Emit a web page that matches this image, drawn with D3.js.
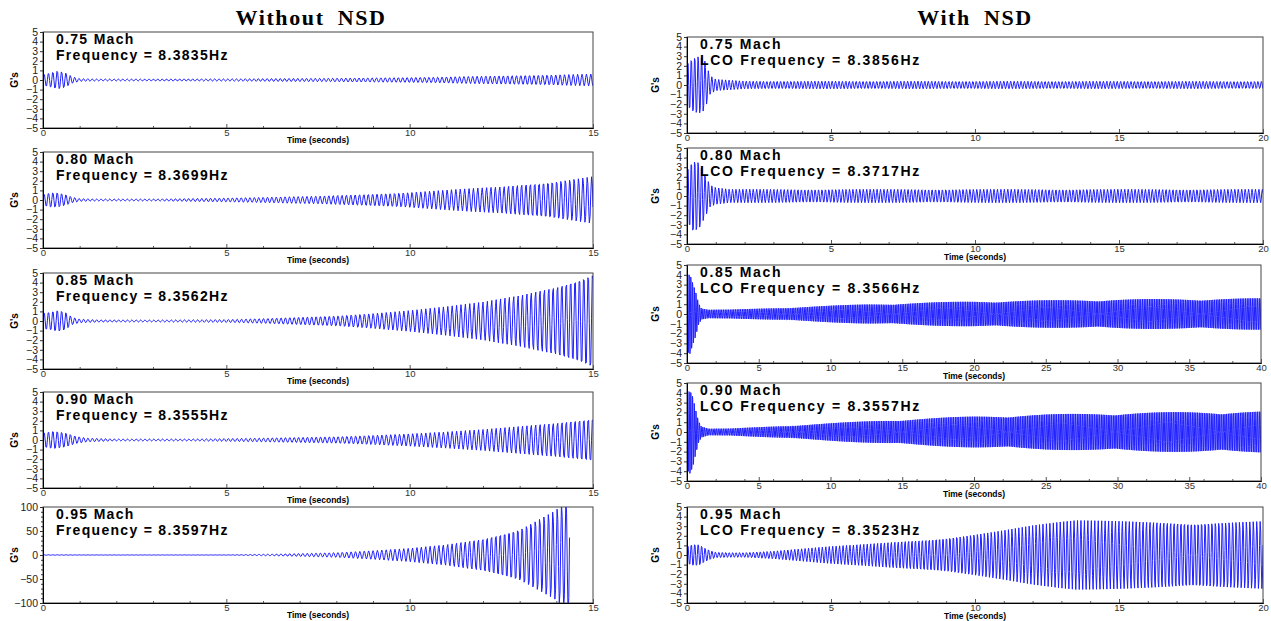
<!DOCTYPE html>
<html><head><meta charset="utf-8">
<script src="https://cdn.jsdelivr.net/npm/d3@7"></script>
<style>body{margin:0;background:#fff} svg{display:block} text{font-family:"Liberation Sans",Arial,sans-serif}</style>
</head><body>
<svg id="c" width="1271" height="621"></svg>
<script>
// ---------------- DATA ----------------
const panelTitles = ["Without NSD", "With NSD"];
const machLabels = ["0.75 Mach", "0.80 Mach", "0.85 Mach", "0.90 Mach", "0.95 Mach"];
const freqWithout = [8.3835, 8.3699, 8.3562, 8.3555, 8.3597];
const freqWith = [8.3856, 8.3717, 8.3566, 8.3557, 8.3523];
const timeMaxWithout = [15, 15, 15, 15, 15];
const timeMaxWith = [20, 20, 40, 40, 20];
const gMaxWithout = [5, 5, 5, 5, 100];
const gMaxWith = [5, 5, 5, 5, 5];
const xTicksMajor15 = [0, 5, 10, 15];
const xTicksMajor20 = [0, 5, 10, 15, 20];
const xTicksMajor40 = [0, 5, 10, 15, 20, 25, 30, 35, 40];
const yTicks5 = [5, 4, 3, 2, 1, 0, -1, -2, -3, -4, -5];
const yTicks100 = [100, 50, 0, -50, -100];

// amplitude envelopes (G's) of the acceleration traces, read at time points (s)
const envTimeL075 = [0, 0.2, 0.4, 0.6, 0.8, 1.0, 1.5, 3, 5, 7, 9, 10, 11, 12, 13, 14, 15];
const envAmpL075  = [0.6, 0.8, 1.0, 0.8, 0.35, 0.15, 0.1, 0.1, 0.12, 0.16, 0.22, 0.26, 0.32, 0.4, 0.48, 0.55, 0.62];
const envTimeL080 = [0, 0.2, 0.4, 0.6, 0.8, 1.0, 1.5, 3, 5, 7.5, 10, 12.5, 15];
const envAmpL080  = [0.6, 0.8, 0.8, 0.6, 0.3, 0.15, 0.1, 0.1, 0.2, 0.4, 0.8, 1.4, 2.5];
const envTimeL085 = [0, 0.2, 0.4, 0.6, 0.8, 1.0, 1.5, 3, 5, 6, 7, 8, 9, 10, 11, 12, 13, 14, 15];
const envAmpL085  = [0.9, 1.0, 1.2, 1.0, 0.4, 0.2, 0.12, 0.1, 0.15, 0.25, 0.4, 0.55, 0.8, 1.1, 1.5, 2.0, 2.75, 3.8, 5.3];
const envTimeL090 = [0, 0.3, 0.6, 0.9, 1.2, 2, 4, 6, 8, 10, 11, 12, 13, 14, 15];
const envAmpL090  = [0.8, 1.0, 0.8, 0.4, 0.2, 0.1, 0.1, 0.2, 0.35, 0.65, 0.85, 1.1, 1.45, 1.85, 2.4];
const envTimeL095 = [0, 0.5, 1, 5, 6, 7, 8, 9, 10, 11, 12, 13, 14, 14.37];
const envAmpL095  = [0.5, 0.5, 0.3, 0.3, 1.5, 3, 5, 9, 14, 22, 35, 58, 98, 130];

const envTimeR075 = [0, 0.2, 0.4, 0.6, 0.8, 1.0, 1.5, 2, 20];
const envAmpR075  = [2.5, 3.0, 3.2, 2.8, 1.0, 0.6, 0.5, 0.4, 0.38];
const envTimeR080 = [0, 0.2, 0.4, 0.6, 0.8, 1.0, 1.5, 20];
const envAmpR080  = [3.0, 4.0, 3.8, 2.5, 1.2, 0.9, 0.7, 0.7];
const envTimeR085 = [0, 0.2, 0.4, 0.6, 0.8, 1.0, 1.5, 3, 5, 7.5, 10, 12.5, 15, 17.5, 20, 25, 30, 35, 40];
const envAmpR085  = [4.5, 4.6, 3.5, 2.5, 1.2, 0.6, 0.45, 0.45, 0.55, 0.7, 0.85, 1.0, 1.1, 1.2, 1.3, 1.4, 1.5, 1.55, 1.6];
const envTimeR090 = [0, 0.2, 0.4, 0.6, 0.8, 1.0, 1.5, 3, 5, 7.5, 10, 12.5, 15, 17.5, 20, 25, 30, 35, 40];
const envAmpR090  = [4.5, 4.8, 4.0, 2.5, 1.2, 0.6, 0.35, 0.35, 0.5, 0.7, 0.9, 1.1, 1.3, 1.45, 1.6, 1.8, 1.95, 2.05, 2.1];
const envTimeR095 = [0, 0.2, 0.4, 0.6, 0.8, 1.0, 1.5, 2, 3, 4, 5, 6, 7, 8, 9, 10, 11, 12, 13, 13.5, 20];
const envAmpR095  = [1.0, 1.2, 1.2, 0.8, 0.5, 0.3, 0.25, 0.25, 0.4, 0.65, 0.9, 1.1, 1.35, 1.6, 1.9, 2.25, 2.65, 3.1, 3.45, 3.6, 3.6];

const envTimesWithout = [envTimeL075, envTimeL080, envTimeL085, envTimeL090, envTimeL095];
const envAmpsWithout = [envAmpL075, envAmpL080, envAmpL085, envAmpL090, envAmpL095];
const envTimesWith = [envTimeR075, envTimeR080, envTimeR085, envTimeR090, envTimeR095];
const envAmpsWith = [envAmpR075, envAmpR080, envAmpR085, envAmpR090, envAmpR095];

// ---------------- LAYOUT ----------------
const sampleRate = 50; // samples per second of the recorded traces
const svg = d3.select("#c");
const leftBoxes = [
  {x0: 43, x1: 593, y0: 32, y1: 128},
  {x0: 43, x1: 593, y0: 152, y1: 248},
  {x0: 43, x1: 593, y0: 273, y1: 369},
  {x0: 43, x1: 593, y0: 392, y1: 488},
  {x0: 43, x1: 593, y0: 507, y1: 603}
];
const rightBoxes = [
  {x0: 687, x1: 1263, y0: 37, y1: 133},
  {x0: 687, x1: 1263, y0: 148, y1: 244},
  {x0: 687, x1: 1261, y0: 265, y1: 363},
  {x0: 687, x1: 1261, y0: 383, y1: 481},
  {x0: 687, x1: 1263, y0: 507, y1: 603}
];

function title(x, s) {
  svg.append("text").attr("x", x).attr("y", 25).attr("text-anchor", "middle")
    .style("font-family", '"Liberation Serif","Times New Roman",serif').style("font-weight", "bold")
    .style("font-size", "22px").style("letter-spacing", "1.6px").style("word-spacing", "6px")
    .text(s);
}
title(311, panelTitles[0]);
title(975, panelTitles[1]);

let clipId = 0;
function drawPanel(box, opts) {
  const g = svg.append("g");
  const x = d3.scaleLinear().domain([0, opts.tMax]).range([box.x0, box.x1]);
  const y = d3.scaleLinear().domain([-opts.gMax, opts.gMax]).range([box.y1, box.y0]);
  const env = d3.scaleLinear().domain(opts.envT).range(opts.envA).clamp(true);
  const tEnd = opts.envT[opts.envT.length - 1];
  const n = Math.floor(tEnd * sampleRate);
  const pts = d3.range(n + 1).map(i => {
    const t = i / sampleRate;
    return [t, env(t) * Math.sin(2 * Math.PI * opts.freq * t)];
  });

  const cid = "clip" + (clipId++);
  svg.append("clipPath").attr("id", cid).append("rect")
    .attr("x", box.x0).attr("y", box.y0).attr("width", box.x1 - box.x0).attr("height", box.y1 - box.y0);

  g.append("path").datum(pts).attr("clip-path", `url(#${cid})`)
    .attr("fill", "none").attr("stroke", "#1f1fff").attr("stroke-width", 1)
    .attr("d", d3.line().x(d => x(d[0])).y(d => y(d[1])));

  // frame
  g.append("rect").attr("x", box.x0).attr("y", box.y0).attr("width", box.x1 - box.x0).attr("height", box.y1 - box.y0)
    .attr("fill", "none").attr("stroke", "#444").attr("stroke-width", 1);

  // x axis major
  const xa = g.append("g").attr("transform", `translate(0,${box.y1})`)
    .call(d3.axisBottom(x).tickValues(opts.xMajor).tickSize(-4).tickPadding(1).tickFormat(d3.format("d")));
  xa.select(".domain").attr("stroke", "#000");
  xa.selectAll("text").style("font-size", "9.5px").attr("fill", "#333").attr("y", 1).attr("dy", "0.71em");
  xa.selectAll(".tick line").attr("stroke", "#555");
  // x minor
  const minorX = d3.range(0, opts.tMax + 0.001, opts.xMinor).filter(v => !opts.xMajor.includes(v));
  const xm = g.append("g").attr("transform", `translate(0,${box.y1})`)
    .call(d3.axisBottom(x).tickValues(minorX).tickSize(-2).tickFormat(""));
  xm.select(".domain").remove();
  xm.selectAll(".tick line").attr("stroke", "#555");

  // y axis
  const ya = g.append("g").attr("transform", `translate(${box.x0},0)`)
    .call(d3.axisLeft(y).tickValues(opts.yTicks).tickSize(3).tickPadding(2));
  ya.select(".domain").attr("stroke", "#000");
  ya.selectAll("text").style("font-size", "10.5px").attr("fill", "#222");
  ya.selectAll(".tick line").attr("stroke", "#333");
  if (opts.yMinor) {
    const minorY = d3.range(-opts.gMax, opts.gMax + 0.001, opts.yMinor).filter(v => !opts.yTicks.includes(v));
    const ym = g.append("g").attr("transform", `translate(${box.x0},0)`)
      .call(d3.axisLeft(y).tickValues(minorY).tickSize(2).tickFormat(""));
    ym.select(".domain").remove();
    ym.selectAll(".tick line").attr("stroke", "#333");
  }

  // y label
  g.append("text").attr("transform", `translate(${opts.yLabelX},${(box.y0 + box.y1) / 2}) rotate(-90)`)
    .attr("text-anchor", "middle").style("font-size", "10px").style("font-weight", "bold").text("G's");
  // x label
  if (opts.showTime) {
    g.append("text").attr("x", (box.x0 + box.x1) / 2).attr("y", box.y1 + opts.timeDy).attr("text-anchor", "middle")
      .style("font-size", "8.5px").style("font-weight", "bold").text("Time (seconds)");
  }
  // annotations
  g.append("text").attr("x", box.x0 + opts.annDx).attr("y", box.y0 + 12)
    .style("font-size", "14px").style("font-weight", "bold").style("letter-spacing", opts.ls)
    .text(opts.mach);
  g.append("text").attr("x", box.x0 + opts.annDx).attr("y", box.y0 + 27.8)
    .style("font-size", "14px").style("font-weight", "bold").style("letter-spacing", opts.ls)
    .text(opts.freqLabel);
}

for (let i = 0; i < 5; i++) {
  drawPanel(leftBoxes[i], {
    tMax: timeMaxWithout[i], gMax: gMaxWithout[i], freq: freqWithout[i],
    envT: envTimesWithout[i], envA: envAmpsWithout[i],
    xMajor: xTicksMajor15, xMinor: 1,
    yTicks: gMaxWithout[i] === 100 ? yTicks100 : yTicks5, yMinor: gMaxWithout[i] === 100 ? 10 : null,
    yLabelX: 18, showTime: true, timeDy: 15, annDx: 13, ls: "1.3px",
    mach: machLabels[i], freqLabel: "Frequency = " + freqWithout[i].toFixed(4) + "Hz"
  });
  drawPanel(rightBoxes[i], {
    tMax: timeMaxWith[i], gMax: gMaxWith[i], freq: freqWith[i],
    envT: envTimesWith[i], envA: envAmpsWith[i],
    xMajor: timeMaxWith[i] === 40 ? xTicksMajor40 : xTicksMajor20, xMinor: timeMaxWith[i] === 40 ? 2 : 1,
    yTicks: yTicks5, yMinor: null,
    yLabelX: 659, showTime: i !== 0, timeDy: 15.5, annDx: 13, ls: "1.7px",
    mach: machLabels[i], freqLabel: "LCO Frequency = " + freqWith[i].toFixed(4) + "Hz"
  });
}
</script>
</body></html>
